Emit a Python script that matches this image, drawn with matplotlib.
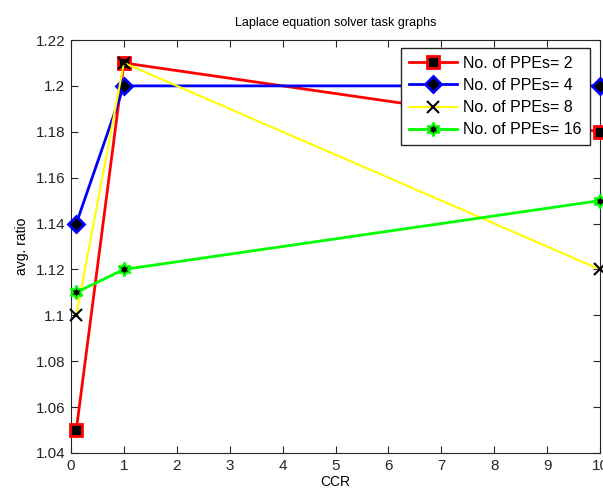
import matplotlib
matplotlib.use("Agg")
import matplotlib.pyplot as plt

ccr = [0.1, 1, 10]
ppe2 = [1.05, 1.21, 1.18]
ppe4 = [1.14, 1.20, 1.20]
ppe8 = [1.10, 1.21, 1.12]
ppe16 = [1.11, 1.12, 1.15]
labels = ["No. of PPEs= 2", "No. of PPEs= 4", "No. of PPEs= 8", "No. of PPEs= 16"]
xticks = list(range(0, 11))
yticks = [1.04, 1.06, 1.08, 1.10, 1.12, 1.14, 1.16, 1.18, 1.20, 1.22]
yticklabels = ["1.04", "1.06", "1.08", "1.1", "1.12", "1.14", "1.16", "1.18", "1.2", "1.22"]

plt.rcParams['font.family'] = ['Liberation Sans', 'DejaVu Sans']
fig = plt.figure(figsize=(6.03, 4.95), dpi=100)
ax = fig.add_axes([71/603, 1-453/495, (600-71)/603, (453-40)/495])

ax.plot(ccr, ppe2, color='red', lw=2, marker='s', ms=9, mfc='black', mec='red', mew=2, label=labels[0], clip_on=False, zorder=3)
ax.plot(ccr, ppe4, color='blue', lw=2, marker='D', ms=8, mfc='black', mec='blue', mew=2, label=labels[1], clip_on=False, zorder=3)
ax.plot(ccr, ppe8, color='yellow', lw=1.5, marker='x', ms=8, mfc='black', mec='black', mew=1.5, label=labels[2], clip_on=False, zorder=3)
ax.plot(ccr, ppe16, color='#00ff00', lw=2, marker=(6, 1, 0), ms=10, mfc='black', mec='#00ff00', mew=1.5, label=labels[3], clip_on=False, zorder=3)

ax.set_xlim(0, 10)
ax.set_ylim(1.04, 1.22)
ax.set_xticks(xticks)
ax.set_yticks(yticks)
ax.set_yticklabels(yticklabels)
ax.tick_params(direction='in', top=True, right=True, labelsize=11, length=5, colors='#262626', pad=4)
for s in ax.spines.values():
    s.set_color('#262626')
ax.set_title("Laplace equation solver task graphs", fontsize=9, pad=10)
ax.set_xlabel("CCR", fontsize=10, labelpad=2)
ax.set_ylabel("avg. ratio", fontsize=10, labelpad=5)

leg = ax.legend(loc='upper right', bbox_to_anchor=(0.981, 0.981), borderaxespad=0, fontsize=11.5, fancybox=False,
                framealpha=1, edgecolor='#262626', handlelength=3.0, borderpad=0.5, labelspacing=0.45, handletextpad=0.4)
leg.get_frame().set_linewidth(1)

fig.savefig("out.png", dpi=100)
